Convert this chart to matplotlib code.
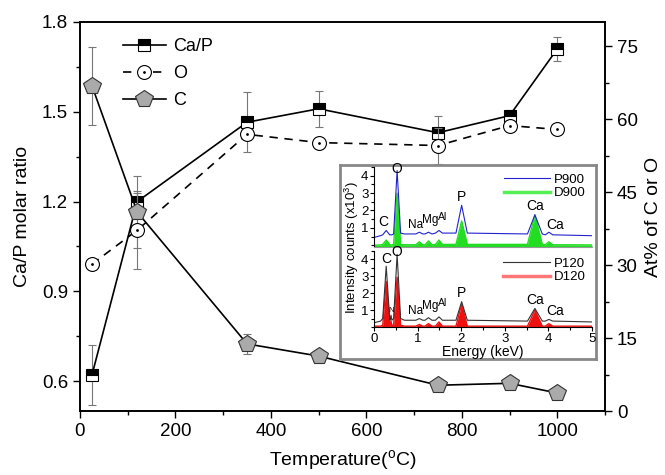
import numpy as np
import matplotlib.pyplot as plt
from matplotlib.ticker import MultipleLocator

plt.rcParams['font.family'] = ['Liberation Sans', 'DejaVu Sans']
plt.rcParams['mathtext.fontset'] = 'custom'
plt.rcParams['mathtext.rm'] = 'Liberation Sans'
plt.rcParams['mathtext.it'] = 'Liberation Sans'

# main data
temp = [25, 120, 350, 500, 750, 900, 1000]
ca_p = [0.62, 1.20, 1.465, 1.51, 1.43, 1.487, 1.71]
ca_p_err = [0.10, 0.03, 0.10, 0.06, 0.055, 0.02, 0.04]
o_at = [30.2, 37.2, 56.9, 55.2, 54.6, 58.7, 57.9]
o_err = [0, 8.0, 1.2, 0, 3.7, 1.0, 0.5]
c_at = [66.9, 40.9, 13.8, 11.3, 5.3, 5.7, 3.7]
c_err = [8.0, 7.4, 2.0, 1.0, 0.8, 0.8, 0.8]

# inset spectra (vertices)
energy = [0.0, 0.15, 0.2, 0.28, 0.36, 0.37, 0.39, 0.41, 0.45, 0.53, 0.61, 0.7,
          0.96, 1.04, 1.12, 1.17, 1.25, 1.33, 1.41, 1.49, 1.57, 1.88, 2.01, 2.14,
          3.52, 3.69, 3.86, 3.93, 4.01, 4.1, 5.0]
p900 = [0.45, 0.55, 0.6, 0.85, 0.6, 0.6, 0.6, 0.6, 0.65, 4.3, 0.7, 0.65,
        0.65, 0.75, 0.65, 0.65, 0.75, 0.65, 0.7, 0.85, 0.7, 0.7, 2.3, 0.7,
        0.65, 1.75, 0.65, 0.6, 0.75, 0.6, 0.55]
d900 = [0.0, 0.02, 0.05, 0.3, 0.05, 0.02, 0.02, 0.02, 0.05, 3.0, 0.05, 0.03,
        0.03, 0.2, 0.03, 0.03, 0.25, 0.03, 0.05, 0.3, 0.05, 0.05, 1.4, 0.05,
        0.05, 1.75, 0.05, 0.03, 0.2, 0.03, 0.02]
p120 = [0.25, 0.35, 0.5, 3.6, 0.5, 0.4, 0.7, 0.4, 0.5, 4.3, 0.5, 0.4,
        0.4, 0.5, 0.4, 0.4, 0.55, 0.4, 0.4, 0.6, 0.4, 0.4, 1.5, 0.4,
        0.35, 1.1, 0.35, 0.35, 0.45, 0.35, 0.3]
d120 = [0.05, 0.05, 0.1, 2.7, 0.1, 0.1, 0.35, 0.1, 0.1, 2.95, 0.1, 0.05,
        0.05, 0.15, 0.05, 0.05, 0.2, 0.05, 0.05, 0.3, 0.05, 0.05, 1.35, 0.05,
        0.05, 1.0, 0.05, 0.05, 0.2, 0.05, 0.05]

fig = plt.figure(figsize=(6.65, 4.75), dpi=100)
ax = fig.add_axes([0.1203, 0.1347, 0.7895, 0.819])
ax2 = ax.twinx()

ecol = '#777777'
ax.errorbar(temp, ca_p, yerr=ca_p_err, fmt='none', ecolor=ecol, elinewidth=0.8,
            capsize=3, capthick=0.8)
h_cap, = ax.plot(temp, ca_p, '-', color='k', lw=1.2, marker='s', ms=9,
                 fillstyle='top', markerfacecolor='k', markerfacecoloralt='white',
                 markeredgecolor='k', markeredgewidth=0.8)

ax2.errorbar(temp, o_at, yerr=o_err, fmt='none', ecolor=ecol, elinewidth=0.8,
             capsize=3, capthick=0.8)
ax2.errorbar(temp, c_at, yerr=c_err, fmt='none', ecolor=ecol, elinewidth=0.8,
             capsize=3, capthick=0.8)
h_o, = ax2.plot(temp, o_at, '--', color='k', lw=1.2, dashes=(5, 4), marker='o',
                ms=10, markerfacecolor='white', markeredgecolor='k', markeredgewidth=0.8)
h_od, = ax2.plot(temp, o_at, ls='none', marker='.', ms=2, color='k')
h_c, = ax2.plot(temp, c_at, '-', color='k', lw=1.2, marker='p', ms=13,
                markerfacecolor='#aaaaaa', markeredgecolor='#333333', markeredgewidth=0.8)

ax.set_xlim(0, 1100)
ax.set_ylim(0.5, 1.8)
ax2.set_ylim(0, 80)
ax.xaxis.set_major_locator(MultipleLocator(200))
ax.xaxis.set_minor_locator(MultipleLocator(100))
ax.yaxis.set_minor_locator(MultipleLocator(0.15))
ax2.yaxis.set_major_locator(MultipleLocator(15))
ax2.yaxis.set_minor_locator(MultipleLocator(7.5))
ax.set_yticks([0.6, 0.9, 1.2, 1.5, 1.8])
for a in (ax, ax2):
    a.tick_params(which='major', direction='out', length=5, width=1, labelsize=13.5)
    a.tick_params(which='minor', direction='out', length=3, width=1)
    for s in a.spines.values():
        s.set_linewidth(1.2)
ax.tick_params(axis='both', top=False)

ax.set_xlabel('Temperature($^{\\mathrm{o}}$C)', fontsize=14, labelpad=6)
ax.set_ylabel('Ca/P molar ratio', fontsize=14, labelpad=8)
ax2.set_ylabel('At% of C or O', fontsize=14, labelpad=5)

ax2.legend([h_cap, (h_o, h_od), h_c], ['Ca/P', 'O', 'C'], loc='upper left',
           bbox_to_anchor=(0.05, 1.0), frameon=False, fontsize=13,
           handlelength=2.4, handletextpad=0.4, labelspacing=0.55)

# inset
bg = fig.add_axes([340 / 665, 1 - 359 / 475, 256 / 665, 194 / 475])
bg.set_xticks([])
bg.set_yticks([])
bg.set_facecolor('white')
for s in bg.spines.values():
    s.set_edgecolor('#888888')
    s.set_linewidth(2)
bg.set_zorder(5)

axt = fig.add_axes([374 / 665, 1 - 247 / 475, 218 / 665, 80 / 475])
axb = fig.add_axes([374 / 665, 1 - 327 / 475, 218 / 665, 76 / 475])
for a in (axt, axb):
    a.set_zorder(6)
    a.patch.set_alpha(0)
    a.set_xlim(0, 5)
    a.spines['top'].set_visible(False)
    a.spines['right'].set_visible(False)
    a.yaxis.set_major_locator(MultipleLocator(1))
    a.yaxis.set_minor_locator(MultipleLocator(0.5))
    a.xaxis.set_major_locator(MultipleLocator(1))
    a.xaxis.set_minor_locator(MultipleLocator(0.5))
    a.tick_params(which='major', direction='out', length=3, width=0.8, labelsize=9.5, pad=1)
    a.tick_params(which='minor', direction='out', length=2, width=0.8)
    for s in a.spines.values():
        s.set_linewidth(0.8)
axt.set_ylim(-0.1, 4.5)
axb.set_ylim(0, 4.5)
axt.set_yticks([1, 2, 3, 4])
axb.set_yticks([1, 2, 3, 4])
axt.tick_params(axis='x', labelbottom=False, length=0, which='both')
axt.spines['bottom'].set_color('#999999')

axt.fill_between(energy, d900, -0.1, color='#22dd22', lw=0)
axt.plot(energy, d900, color='#22dd22', lw=1.0)
axt.plot(energy, p900, color='#2222cc', lw=0.8)
hp9, = axt.plot([], [], color='#2222cc', lw=0.8)
hd9, = axt.plot([], [], color='#55ee55', lw=2.5)
axt.legend([hp9, hd9], ['P900', 'D900'], loc='upper right', frameon=False,
           fontsize=9.5, handlelength=3.5, handletextpad=0.3, labelspacing=0.1,
           borderaxespad=0.1)

axb.fill_between(energy, d120, 0, color='#ee1111', lw=0)
axb.plot(energy, d120, color='#ee1111', lw=1.0)
axb.plot(energy, p120, color='#333333', lw=0.8)
hp1, = axb.plot([], [], color='#333333', lw=0.8)
hd1, = axb.plot([], [], color='#ff7777', lw=2.5)
axb.legend([hp1, hd1], ['P120', 'D120'], loc='upper right', frameon=False,
           fontsize=9.5, handlelength=3.5, handletextpad=0.3, labelspacing=0.1,
           borderaxespad=0.1)
axb.set_xlabel('Energy (keV)', fontsize=10, labelpad=0)

fs = 10
axt.text(0.22, 0.95, 'C', fontsize=fs, ha='center', va='bottom')
axt.text(0.53, 4.0, 'O', fontsize=fs, ha='center', va='bottom')
axt.text(0.95, 0.8, 'Na', fontsize=fs - 1.5, ha='center', va='bottom')
axt.text(1.3, 1.1, 'Mg', fontsize=fs - 1.5, ha='center', va='bottom')
axt.text(1.58, 1.35, 'Al', fontsize=fs - 2.5, ha='center', va='bottom')
axt.text(2.01, 2.4, 'P', fontsize=fs, ha='center', va='bottom')
axt.text(3.7, 1.85, 'Ca', fontsize=fs, ha='center', va='bottom')
axt.text(4.15, 0.75, 'Ca', fontsize=fs, ha='center', va='bottom')

axb.text(0.28, 3.6, 'C', fontsize=fs, ha='center', va='bottom')
axb.text(0.39, 0.75, 'N', fontsize=fs - 4.5, ha='center', va='bottom')
axb.text(0.53, 4.0, 'O', fontsize=fs, ha='center', va='bottom')
axb.text(0.95, 0.6, 'Na', fontsize=fs - 1.5, ha='center', va='bottom')
axb.text(1.3, 0.9, 'Mg', fontsize=fs - 1.5, ha='center', va='bottom')
axb.text(1.58, 1.15, 'Al', fontsize=fs - 2.5, ha='center', va='bottom')
axb.text(2.01, 1.6, 'P', fontsize=fs, ha='center', va='bottom')
axb.text(3.7, 1.2, 'Ca', fontsize=fs, ha='center', va='bottom')
axb.text(4.15, 0.55, 'Ca', fontsize=fs, ha='center', va='bottom')

fig.text(352 / 665, 1 - 248 / 475, 'Intensity counts (x10$^3$)', rotation=90,
         fontsize=9.5, ha='center', va='center', zorder=7)

fig.savefig('out.png', dpi=100)
